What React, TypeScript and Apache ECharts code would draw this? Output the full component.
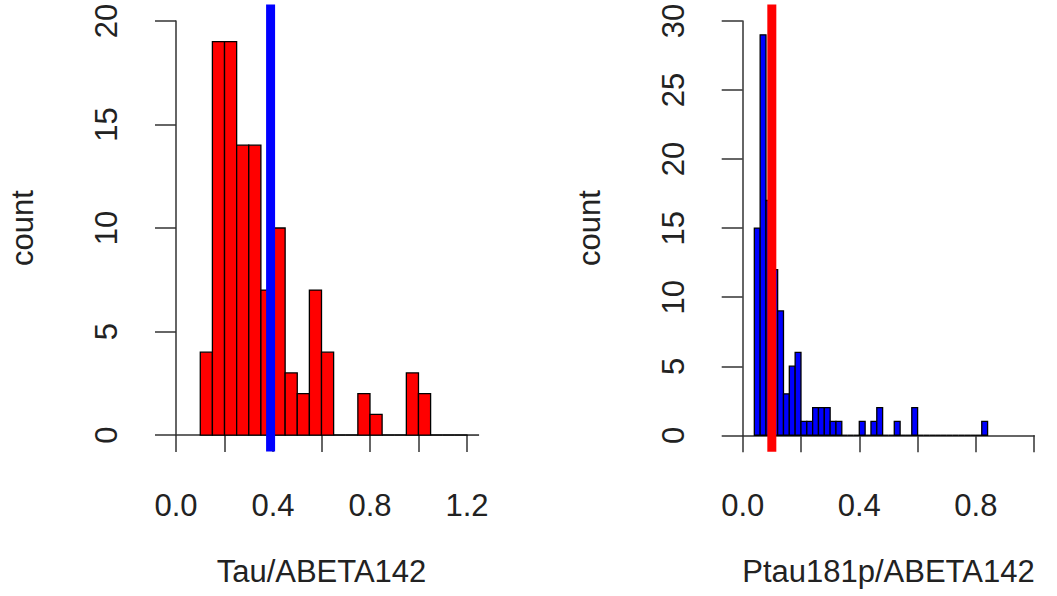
import React, { useEffect, useRef } from "react";
import * as echarts from "echarts";

// ---- data ----
const tauTitle = "Tau/ABETA142";
const ptauTitle = "Ptau181p/ABETA142";
const yTitle = "count";

// histogram of Tau/ABETA142: bins of 0.05 starting at 0.10
const tauBreakStart = 0.1;
const tauBinWidth = 0.05;
const tauCounts = [4, 19, 19, 14, 14, 7, 10, 3, 2, 7, 4, 0, 0, 2, 1, 0, 0, 3, 2, 0, 0, 0, 0];
const tauCutoff = 0.39;

// histogram of Ptau181p/ABETA142: bins of 0.02 starting at 0.04
const ptauBreakStart = 0.04;
const ptauBinWidth = 0.02;
const ptauCounts = [
  15, 29, 17, 12, 9, 3, 5, 6, 1, 1, 2, 2, 2, 1, 1, 0, 0, 0, 1, 0,
  1, 2, 0, 0, 1, 0, 0, 2, 0, 0, 0, 0, 0, 0, 0, 0, 0, 0, 0, 1,
];
const ptauCutoff = 0.1;

// axis ranges (xlim / ylim)
const tauXLim = [0, 1.2];
const tauYLim = [0, 20];
const ptauXLim = [0, 1.0];
const ptauYLim = [0, 30];

const FONT = "'Liberation Sans', Arial, Helvetica, sans-serif";
const AXIS_COLOR = "#333";
const TEXT_COLOR = "#222";
const FS = 31;

function binData(start: number, width: number, counts: number[]) {
  return counts.map((c, i) => [start + i * width, start + (i + 1) * width, c]);
}

function histSeries(xi: number, data: number[][], fill: string) {
  return {
    type: "custom",
    xAxisIndex: xi,
    yAxisIndex: xi,
    data,
    silent: true,
    renderItem: (_p: any, api: any) => {
      const x0 = api.value(0);
      const x1 = api.value(1);
      const c = api.value(2);
      const a = api.coord([x0, c]);
      const b = api.coord([x1, 0]);
      if (c > 0) {
        return {
          type: "rect",
          shape: { x: a[0], y: a[1], width: b[0] - a[0], height: b[1] - a[1] },
          style: { fill, stroke: "#000", lineWidth: 1.3 },
        };
      }
      return {
        type: "line",
        shape: { x1: a[0], y1: b[1], x2: b[0], y2: b[1] },
        style: { stroke: "#000", lineWidth: 1.3 },
      };
    },
  };
}

function ext(lim: number[]) {
  const r = lim[1] - lim[0];
  return [lim[0] - 0.04 * r, lim[1] + 0.04 * r];
}

function xLabelFmt(v: number) {
  return Math.round(v * 10) % 4 === 0 ? v.toFixed(1) : "";
}

function visibleX(gi: number, lim: number[], name: string) {
  return {
    type: "value",
    gridIndex: gi,
    min: lim[0],
    max: lim[1],
    interval: 0.2,
    offset: 17,
    name,
    nameLocation: "middle",
    nameGap: 104,
    nameTextStyle: { fontSize: FS, color: TEXT_COLOR, fontFamily: FONT },
    axisLine: { show: true, lineStyle: { color: AXIS_COLOR, width: 1.5 } },
    axisTick: { show: true, length: 17, lineStyle: { color: AXIS_COLOR, width: 1.5 } },
    axisLabel: {
      show: true,
      margin: 38,
      fontSize: FS,
      color: TEXT_COLOR,
      fontFamily: FONT,
      formatter: xLabelFmt,
      hideOverlap: false,
    },
    splitLine: { show: false },
  };
}

function visibleY(gi: number, lim: number[]) {
  return {
    type: "value",
    gridIndex: gi,
    min: lim[0],
    max: lim[1],
    interval: 5,
    offset: 12,
    name: yTitle,
    nameLocation: "middle",
    nameRotate: 90,
    nameGap: 126,
    nameTextStyle: { fontSize: FS, color: TEXT_COLOR, fontFamily: FONT },
    axisLine: { show: true, lineStyle: { color: AXIS_COLOR, width: 1.5 } },
    axisTick: { show: true, length: 21, lineStyle: { color: AXIS_COLOR, width: 1.5 } },
    axisLabel: {
      show: true,
      rotate: 90,
      margin: 42,
      fontSize: FS,
      color: TEXT_COLOR,
      fontFamily: FONT,
    },
    splitLine: { show: false },
  };
}

function hiddenAxis(gi: number, lim: number[]) {
  const e = ext(lim);
  return { type: "value", gridIndex: gi, min: e[0], max: e[1], show: false, splitLine: { show: false } };
}

function cutLine(xi: number, x: number, ylim: number[], color: string) {
  const e = ext(ylim);
  return {
    type: "line",
    xAxisIndex: xi,
    yAxisIndex: xi,
    data: [
      [x, e[0]],
      [x, e[1]],
    ],
    symbol: "none",
    silent: true,
    z: 10,
    lineStyle: { color, width: 9 },
  };
}

export default function App() {
  const ref = useRef<HTMLDivElement>(null);
  useEffect(() => {
    if (!ref.current) return;
    const chart = echarts.init(ref.current, undefined, { renderer: "svg" });
    chart.setOption({
      animation: false,
      backgroundColor: "#fff",
      grid: [
        { left: 176, top: 21, width: 291, height: 414 },
        { left: 164.4, top: 4.4, width: 314.2, height: 447.2 },
        { left: 742.7, top: 21, width: 291.5, height: 414.3 },
        { left: 731, top: 4.4, width: 314.9, height: 447.4 },
      ],
      xAxis: [
        visibleX(0, tauXLim, tauTitle),
        hiddenAxis(1, tauXLim),
        visibleX(2, ptauXLim, ptauTitle),
        hiddenAxis(3, ptauXLim),
      ],
      yAxis: [
        visibleY(0, tauYLim),
        hiddenAxis(1, tauYLim),
        visibleY(2, ptauYLim),
        hiddenAxis(3, ptauYLim),
      ],
      series: [
        histSeries(1, binData(tauBreakStart, tauBinWidth, tauCounts), "#ff0000"),
        cutLine(1, tauCutoff, tauYLim, "#0000ff"),
        histSeries(3, binData(ptauBreakStart, ptauBinWidth, ptauCounts), "#0000ff"),
        cutLine(3, ptauCutoff, ptauYLim, "#ff0000"),
      ],
    });
    return () => chart.dispose();
  }, []);
  return (
    <div
      ref={ref}
      style={{ position: "fixed", left: 0, top: 0, width: 1057, height: 596, background: "#fff" }}
    />
  );
}
